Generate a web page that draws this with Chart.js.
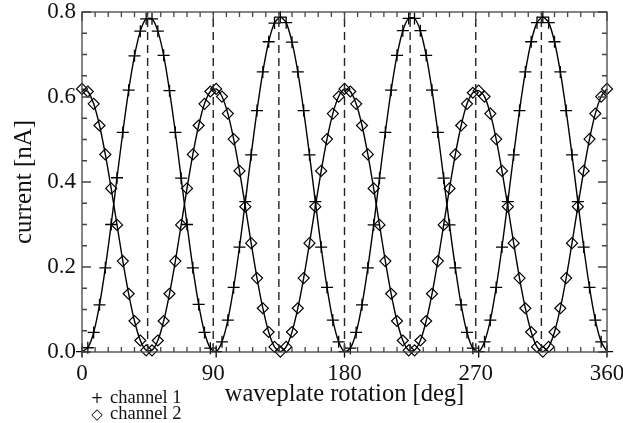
<html>
<head>
<style>
  body { margin: 0; background: #fff; }
  #wrap { position: relative; width: 623px; height: 423px; }
  .key { position: absolute; left: 84px; font-family: "Liberation Serif", serif; font-size: 18.5px; line-height: 16px; color: #111; white-space: nowrap; }
  .sym { display: inline-block; width: 26px; text-align: center; font-family: "DejaVu Sans", sans-serif; font-size: 15px; }
</style>
</head>
<body>
<div id="wrap">
  <canvas id="myChart" width="623" height="423"></canvas>
  <div class="key" style="top:389px"><span class="sym">+</span>channel 1</div>
  <div class="key" style="top:405px"><span class="sym">&#9671;</span>channel 2</div>
</div>

<script src="https://cdn.jsdelivr.net/npm/chart.js"></script>

<script>
  // waveplate angle of each measurement [deg]
  const angles = [0, 4, 8, 12, 16, 20, 24, 28, 32, 36, 40, 44, 48, 52, 56, 60, 64, 68, 72, 76, 80, 84, 88,
    92, 96, 100, 104, 108, 112, 116, 120, 124, 128, 132, 136, 140, 144, 148, 152, 156, 160, 164, 168, 172, 176, 180,
    184, 188, 192, 196, 200, 204, 208, 212, 216, 220, 224, 228, 232, 236, 240, 244, 248, 252, 256, 260, 264, 268,
    272, 276, 280, 284, 288, 292, 296, 300, 304, 308, 312, 316, 320, 324, 328, 332, 336, 340, 344, 348, 352, 356, 360];

  // current [nA]
  const channel1 = [0.001, 0.010, 0.046, 0.111, 0.198, 0.300, 0.410, 0.517, 0.616, 0.697, 0.755, 0.784,
    0.784, 0.755, 0.698, 0.615, 0.517, 0.409, 0.300, 0.198, 0.112, 0.046, 0.009,
    0.001, 0.024, 0.075, 0.152, 0.247, 0.354, 0.464, 0.568, 0.659, 0.730, 0.774, 0.788,
    0.775, 0.729, 0.659, 0.568, 0.464, 0.354, 0.247, 0.152, 0.075, 0.024, 0.001,
    0.009, 0.046, 0.111, 0.198, 0.299, 0.409, 0.517, 0.616, 0.698, 0.756, 0.785,
    0.785, 0.756, 0.698, 0.616, 0.517, 0.409, 0.299, 0.198, 0.111, 0.046, 0.009,
    0.001, 0.024, 0.075, 0.152, 0.247, 0.354, 0.464, 0.568, 0.659, 0.730, 0.775, 0.788,
    0.775, 0.730, 0.659, 0.568, 0.464, 0.354, 0.247, 0.152, 0.075, 0.024, 0.001];

  const channel2 = [0.619, 0.613, 0.584, 0.533, 0.465, 0.385, 0.299, 0.214, 0.137, 0.073, 0.027, 0.004,
    0.004, 0.027, 0.073, 0.137, 0.214, 0.299, 0.385, 0.465, 0.533, 0.584, 0.613,
    0.619, 0.601, 0.561, 0.501, 0.426, 0.342, 0.256, 0.174, 0.103, 0.047, 0.012, 0.001,
    0.012, 0.047, 0.103, 0.174, 0.256, 0.342, 0.426, 0.501, 0.561, 0.601, 0.619,
    0.613, 0.584, 0.533, 0.465, 0.385, 0.299, 0.214, 0.137, 0.073, 0.027, 0.004,
    0.004, 0.027, 0.073, 0.137, 0.214, 0.299, 0.385, 0.465, 0.533, 0.584, 0.610,
    0.615, 0.601, 0.561, 0.501, 0.426, 0.342, 0.256, 0.174, 0.103, 0.047, 0.012, 0.001,
    0.012, 0.047, 0.103, 0.174, 0.256, 0.342, 0.426, 0.501, 0.561, 0.601, 0.619];

  // dashed guide lines
  const guideAngles = [45, 90, 135, 180, 225, 270, 315];

  const xTicks = [0, 90, 180, 270, 360];
  const yTicks = [0.0, 0.2, 0.4, 0.6, 0.8];

  const serif = '"Liberation Serif", "Times New Roman", serif';

  function pts(xs, ys) {
    return xs.map((x, i) => ({ x: x, y: ys[i] }));
  }

  var guides = [];
  guideAngles.forEach(a => {
    guides.push({ x: a, y: yTicks[0] }, { x: a, y: yTicks[yTicks.length - 1] }, { x: a, y: null });
  });

  // IDL style frame with ticks pointing inwards on all four sides
  const frame = {
    id: 'frame',
    afterDatasetsDraw(chart) {
      const c = chart.ctx, a = chart.chartArea;
      const sx = chart.scales.x, sy = chart.scales.y;
      c.save();
      c.strokeStyle = '#444';
      c.lineWidth = 1.3;
      c.strokeRect(a.left, a.top, a.right - a.left, a.bottom - a.top);
      c.beginPath();
      for (let v = 0; v <= 360; v += 9) {
        const px = sx.getPixelForValue(v);
        const len = v % 90 === 0 ? 9 : 5;
        c.moveTo(px, a.bottom); c.lineTo(px, a.bottom - len);
        c.moveTo(px, a.top); c.lineTo(px, a.top + len);
      }
      for (let i = 0; i <= 16; i++) {
        const py = sy.getPixelForValue(i * 0.05);
        const len = i % 4 === 0 ? 9 : 5;
        c.moveTo(a.left, py); c.lineTo(a.left + len, py);
        c.moveTo(a.right, py); c.lineTo(a.right - len, py);
      }
      c.stroke();
      c.restore();
    }
  };

  const ctx = document.getElementById('myChart');

  chart = new Chart(ctx, {
    type: 'line',
    data: {
      datasets: [{
        label: 'guides',
        data: guides,
        borderColor: '#222',
        borderWidth: 1.4,
        borderDash: [8, 5],
        pointRadius: 0,
        spanGaps: false
      }, {
        label: 'channel 1',
        data: pts(angles, channel1),
        borderColor: '#000',
        borderWidth: 1.4,
        tension: 0.25,
        pointStyle: 'cross',
        pointRadius: 6,
        pointBorderWidth: 1.3,
        pointBorderColor: '#000',
        clip: false
      }, {
        label: 'channel 2',
        data: pts(angles, channel2),
        borderColor: '#000',
        borderWidth: 1.4,
        tension: 0.25,
        pointStyle: 'rectRot',
        pointRadius: 5.5,
        pointBorderWidth: 1.2,
        pointBorderColor: '#000',
        pointBackgroundColor: 'rgba(0,0,0,0)',
        clip: false
      }]
    },
    options: {
      responsive: false,
      devicePixelRatio: 1,
      animation: false,
      layout: { padding: { left: 9, top: 12, right: 16, bottom: 14 } },
      plugins: { legend: { display: false }, tooltip: { enabled: false } },
      scales: {
        x: {
          type: 'linear',
          min: 0,
          max: 360,
          afterBuildTicks: s => { s.ticks = xTicks.map(v => ({ value: v })); },
          afterFit: s => { s.height = 57; s.paddingLeft = 0; s.paddingRight = 0; },
          grid: { display: false, drawTicks: false },
          border: { display: false },
          ticks: { color: '#111', padding: 8, maxRotation: 0, font: { family: serif, size: 23 } },
          title: { display: true, text: 'waveplate rotation [deg]', color: '#111', padding: 0, font: { family: serif, size: 24.5 } }
        },
        y: {
          min: 0,
          max: 0.8,
          afterBuildTicks: s => { s.ticks = yTicks.map(v => ({ value: v })); },
          afterFit: s => { s.width = 73; s.paddingTop = 0; s.paddingBottom = 0; },
          grid: { display: false, drawTicks: false },
          border: { display: false },
          ticks: { color: '#111', padding: 6, callback: v => v.toFixed(1), font: { family: serif, size: 23 } },
          title: { display: true, text: 'current [nA]', color: '#111', padding: 0, font: { family: serif, size: 25 } }
        }
      }
    },
    plugins: [frame]
  });
</script>
</body>
</html>
